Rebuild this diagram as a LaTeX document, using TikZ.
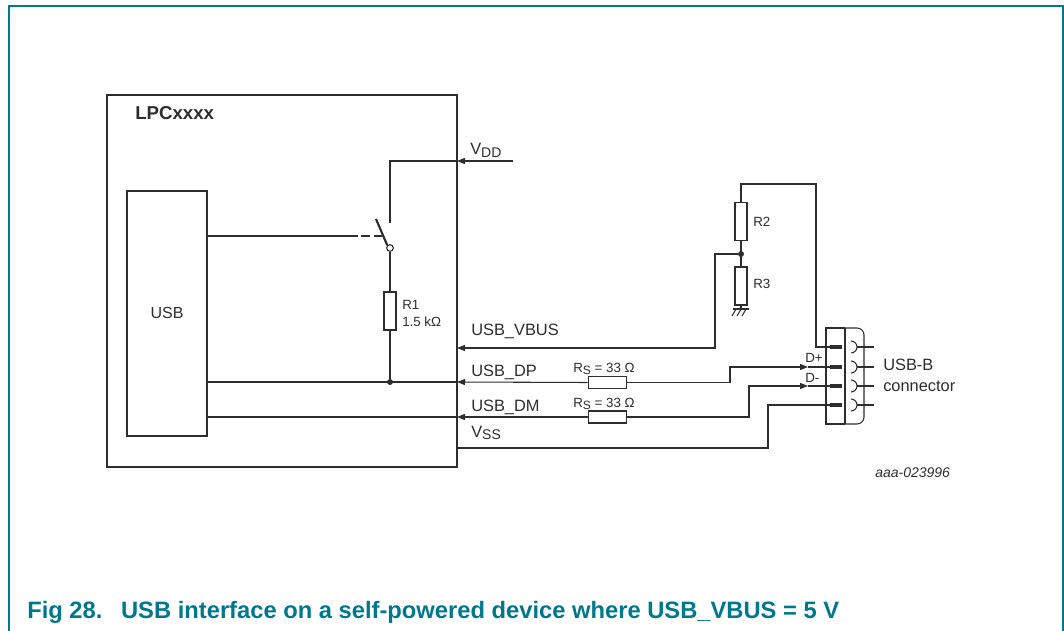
\documentclass[tikz,border=0pt]{standalone}
\usepackage{fontspec}
\setmainfont{Liberation Sans}
\usetikzlibrary{arrows.meta}

\definecolor{nxpteal}{RGB}{0,120,140}
\definecolor{wirecol}{RGB}{45,45,45}

\tikzset{
    wire/.style={draw=wirecol, line width=0.8pt},
    chip/.style={draw=wirecol, line width=1.6pt, inner sep=0pt},
    res/.style={draw=wirecol, line width=0.8pt, fill=white, inner sep=0pt},
    hres/.style={res, minimum width=29pt, minimum height=9pt},
    vres/.style={res, minimum width=9pt, minimum height=28.5pt},
    pin/.style={draw=wirecol, line width=2.4pt},
    into/.style={-{Triangle[length=6pt,width=4.5pt]}},
    dot/.style={circle, fill=wirecol, inner sep=0pt, minimum size=4.5pt},
    sig/.style={inner sep=0pt, anchor=base west, text=wirecol, font=\fontsize{12.3}{12.3}\selectfont},
    small/.style={inner sep=0pt, anchor=base west, text=wirecol, font=\fontsize{10}{10}\selectfont},
}
\newcommand{\lowsub}[1]{\raisebox{-2.2pt}{\fontsize{10.5}{10.5}\selectfont #1}}
\newcommand{\lowsubs}[1]{\raisebox{-2pt}{\fontsize{9}{9}\selectfont #1}}

\begin{document}
\begin{tikzpicture}[x=0.75pt,y=0.75pt,yscale=-1]
    \useasboundingbox (0,0) rectangle (1064,631);

    %Frame
    \draw[nxpteal, line width=1.2pt] (9,631) -- (9,6) -- (1063,6) -- (1063,631);

    %Chip and USB block
    \node[chip, minimum width=262.5pt, minimum height=279pt] (lpc) at (282,281) {};
    \node[chip, minimum width=60pt, minimum height=183.75pt] (usb) at (167,313.5) {};
    \node[inner sep=0pt, text=wirecol, font=\fontsize{12}{12}\selectfont] (usbtxt) at (167,313) {USB};
    \node[inner sep=0pt, anchor=base west, text=wirecol, font=\bfseries\fontsize{14}{14}\selectfont] (lpctxt) at (135,120) {LPCxxxx};

    %Pull-up path
    \coordinate (vddin) at (513,161);
    \coordinate (vddedge) at (457,161);
    \coordinate (swtop) at (390,223);
    \node[circle, draw=wirecol, line width=0.8pt, fill=white, inner sep=0pt, minimum size=5pt] (swpivot) at (390,248) {};
    \coordinate (blade) at (376,219);
    \node[vres] (r1) at (390,311) {};
    \node[dot] (dpj) at (390,382) {};
    \coordinate (ctl) at (358,236);

    \draw[wire, into] (vddin) -- (vddedge);
    \draw[wire] (vddedge) -| (swtop);
    \draw[wire, line width=1.6pt] (swpivot.north west) -- (blade);
    \draw[wire] (swpivot) -- (r1.north);
    \draw[wire] (r1.south) -- (dpj);
    \draw[wire] (usb.east |- ctl) -- (ctl);
    \draw[wire, dash pattern=on 7pt off 3pt] (ctl) ++(3,0) -- (382,236);

    \node[sig] (vddlbl) at (470,155) {V\lowsub{DD}};
    \node[small] (r1lbl) at (402,309) {R1};
    \node[small] (r1val) at (402,326) {1.5 kΩ};

    %Lines into the chip
    \coordinate (vbusedge) at (457,348);
    \coordinate (dpedge) at (457,382);
    \coordinate (dmedge) at (457,417);
    \coordinate (vssedge) at (457,448);
    \node[hres] (rsp) at (607.5,382.5) {};
    \node[hres] (rsm) at (607.5,417) {};

    \draw[wire] (usb.east |- dpedge) -- (dpedge);
    \draw[wire] (usb.east |- dmedge) -- (dmedge);
    \draw[wire, into] (rsp.west) -- (dpedge);
    \draw[wire, into] (rsm.west) -- (dmedge);

    \node[sig] (vbuslbl) at (471,335) {USB\_VBUS};
    \node[sig] (dplbl) at (471,376) {USB\_DP};
    \node[sig] (dmlbl) at (471,411) {USB\_DM};
    \node[sig] (vsslbl) at (471,437) {V\lowsub{SS}};
    \node[small] (rsplbl) at (573,372) {R\lowsubs{S} = 33 Ω};
    \node[small] (rsmlbl) at (573,407) {R\lowsubs{S} = 33 Ω};

    %Divider
    \node[vres] (r2) at (741,221.5) {};
    \node[vres] (r3) at (741,286) {};
    \node[dot] (divj) at (741,254) {};
    \coordinate (gnd) at (741,309);
    \draw[wire] (r2.south) -- (r3.north);
    \draw[wire] (r3.south) -- (gnd);
    \draw[wire] (733,309) -- (749,309);
    \foreach \gx in {736,741,746}
        \draw[wire] (\gx,309) -- (\gx-4,316);
    \node[small] (r2lbl) at (753,227) {R2};
    \node[small] (r3lbl) at (753,288) {R3};
    \draw[wire, into] (divj) -- (715,254) |- (vbusedge);

    %USB-B connector
    \draw[wire] (845,328) -- (826,328) -- (826,424) -- (845,424);
    \draw[wire] (845,328) -- (857,328) arc (-90:0:7) -- (864,417) arc (0:90:7) -- (845,424);
    \draw[wire] (845,328) -- (845,424);
    \foreach \py/\pn in {347/1,367/2,386/3,405/4} {
        \coordinate (pin\pn) at (830,\py);
        \draw[pin] (830,\py) -- (842,\py);
        \draw[wire] (851,\py-6) arc (-90:90:6);
        \draw[wire] (857,\py) -- (874,\py);
    }
    \node[sig] (conlbl1) at (883,370) {USB-B};
    \node[sig] (conlbl2) at (883,391) {connector};
    \node[small] (dpin) at (805,362) {D+};
    \node[small] (dmin) at (805,382) {D-};

    %Connector wiring
    \draw[wire] (r2.north) |- (816,184) |- (pin1);
    \draw[wire, into] (rsp.east) -- (730,382.5) |- (808,367);
    \draw[wire] (808,367) -- (pin2);
    \draw[wire, into] (rsm.east) -- (749,417) |- (808,386);
    \draw[wire] (808,386) -- (pin3);
    \draw[wire] (vssedge) -- (768,448) |- (pin4);

    %Drawing number
    \node[inner sep=0pt, anchor=base west, text=wirecol, font=\itshape\fontsize{10.5}{10.5}\selectfont] (docnum) at (875,477) {aaa-023996};

    %Caption
    \node[inner sep=0pt, anchor=base west, text=nxpteal, font=\bfseries\fontsize{17.8}{17.8}\selectfont] (caption) at (27,618) {Fig 28.\hspace{14pt}USB interface on a self-powered device where USB\_VBUS = 5 V};
\end{tikzpicture}
\end{document}
